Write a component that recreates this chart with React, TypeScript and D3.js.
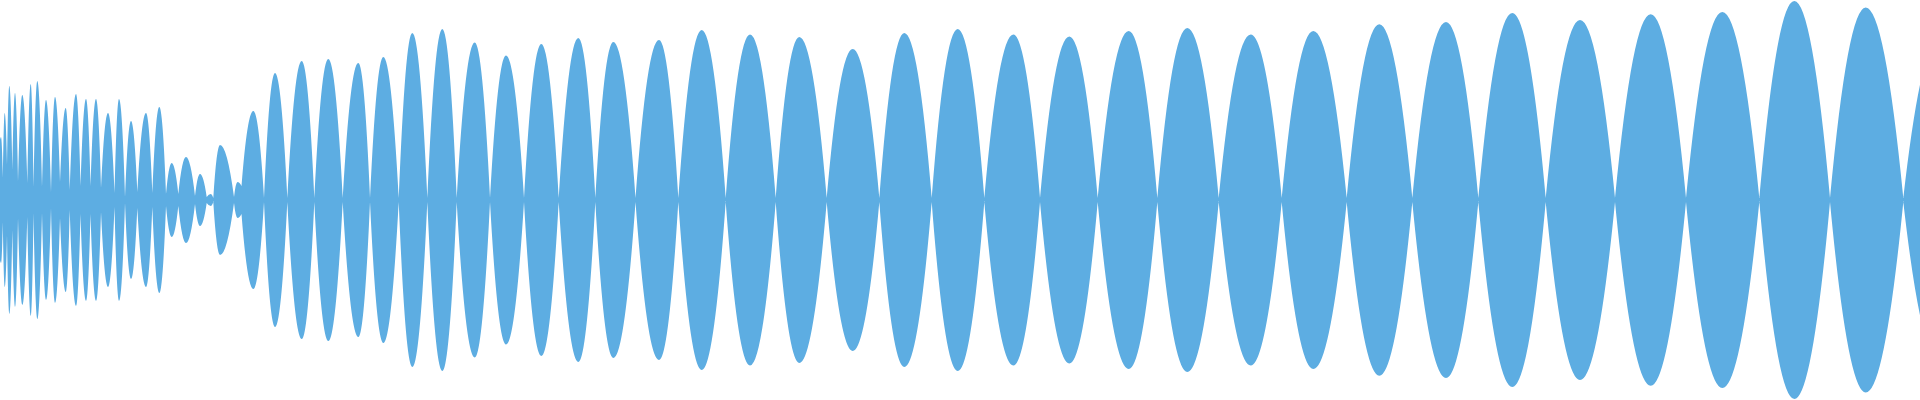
import React from "react";
import * as d3 from "d3";

// Envelope of the waveform: zero-crossing (node) positions with their residual amplitude,
// and the peak of each lobe between two consecutive nodes.
const nodeX = [
  -3, 2.8, 7, 12.3, 18, 27.3, 33.5, 42, 51, 60, 69.7, 80.5, 90.5, 101, 114.5, 125, 137.3, 152.3, 166,
  178.3, 195, 206.7, 213.3, 234, 241.5, 264, 287.3, 314.3, 342.7, 370, 398.7, 427.3, 456.7,
  490, 524, 558.7, 595.3, 635.5, 678.3, 725.7, 775.7, 826.7, 879.3, 931.7, 984.3, 1040, 1097.7,
  1157.3, 1218.7, 1281.7, 1346.7, 1412.3, 1478.3, 1545.7, 1615, 1686, 1759.3, 1830, 1903.3, 1977,
];
const nodeAmp = [
  20, 22, 35, 30, 18, 17, 13, 13, 8, 18, 10, 14, 14, 12, 7, 3, 8, 7, 6,
  6, 4, 3, 2, 3, 14, 2, 2, 2, 2, 2, 2, 2, 2,
  2, 2, 2, 2, 2, 2, 2, 2, 2, 2, 2, 2, 2, 2,
  2, 2, 2, 2, 2, 2, 2, 2, 2, 2, 2, 2, 2,
];
const peakX = [
  1, 4.7, 9.3, 15, 22.3, 30.7, 37.3, 46, 55, 65.7, 76, 86, 96, 108, 119, 131, 146, 159.3,
  171.7, 186, 200, 210.7, 220, 237.5, 253.3, 275, 301.7, 328.3, 358.3, 383.3, 412.3, 442.3,
  474.7, 506, 541.3, 578.3, 613.3, 659, 701.7, 750, 799.3, 852.7, 904.3, 957.7, 1013.3, 1069.3,
  1128.7, 1187.3, 1250.7, 1313.3, 1379.3, 1446, 1512.3, 1580, 1650.7, 1722.3, 1794.3, 1865.7, 1940,
];
const peakAmp = [
  63, 87, 114, 107, 105, 116, 119, 100, 103, 92, 106, 101, 101, 87, 101, 79, 87, 93,
  37, 43, 26, 6, 55, 18, 89, 127, 139, 141, 137, 143, 167, 171,
  157.5, 144.5, 156, 162, 158, 160, 170, 165.5, 163, 151, 167, 171, 165.5, 163.5,
  169, 172, 165.5, 169, 175.7, 178, 187, 180, 185.7, 188, 199, 192.5, 163,
];

const WIDTH = 1920;
const HEIGHT = 400;
const COLOR = "#5dade2";

export default function App() {
  const x = d3.scaleLinear().domain([0, 1920]).range([0, WIDTH]);
  const y = d3.scaleLinear().domain([-200, 200]).range([HEIGHT, 0]);

  const p = d3.path();
  peakX.forEach((px, i) => {
    const n0 = nodeX[i];
    const n1 = nodeX[i + 1];
    const a0 = nodeAmp[i];
    const a1 = nodeAmp[i + 1];
    const A = peakAmp[i];
    const m0 = (n0 + px) / 2;
    const m1 = (px + n1) / 2;
    // upper half: parabolic rise to the peak and fall to the next node
    p.moveTo(x(n0), y(a0));
    p.quadraticCurveTo(x(m0), y(A), x(px), y(A));
    p.quadraticCurveTo(x(m1), y(A), x(n1), y(a1));
    // mirrored lower half
    p.lineTo(x(n1), y(-a1));
    p.quadraticCurveTo(x(m1), y(-A), x(px), y(-A));
    p.quadraticCurveTo(x(m0), y(-A), x(n0), y(-a0));
    p.closePath();
  });

  return (
    <svg
      width={WIDTH}
      height={HEIGHT}
      style={{ position: "absolute", left: 0, top: 0, display: "block", background: "#fff" }}
    >
      <path d={p.toString()} fill={COLOR} stroke="none" />
    </svg>
  );
}
